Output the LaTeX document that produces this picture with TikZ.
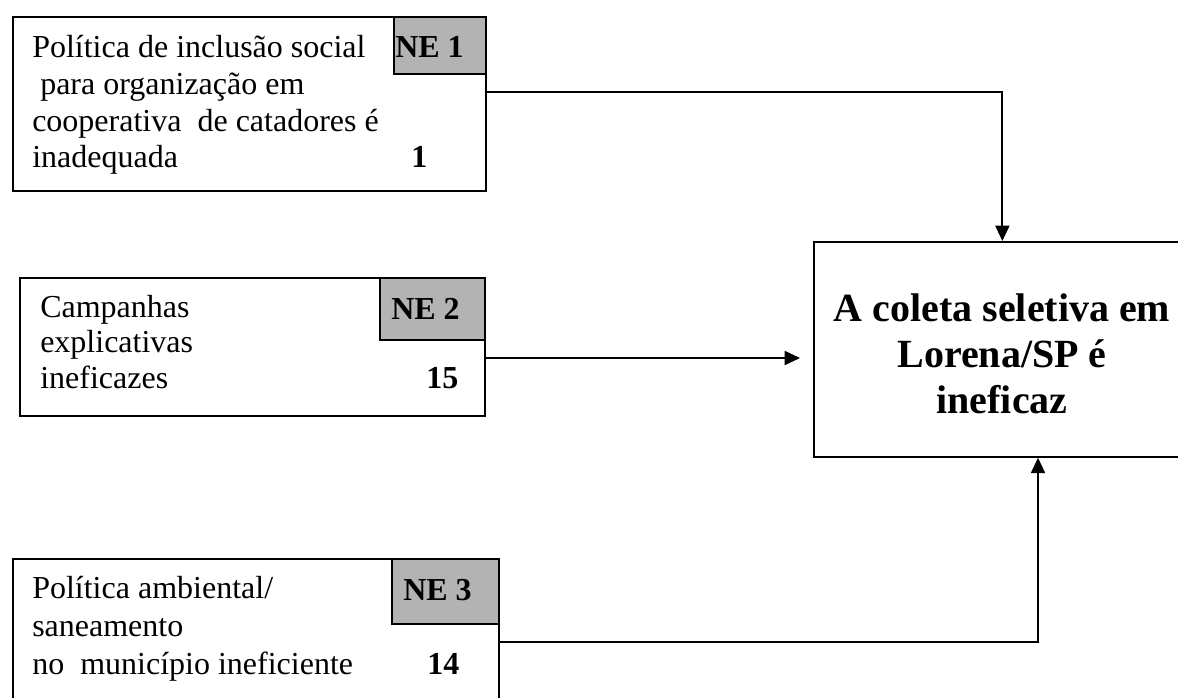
\documentclass[tikz,border=0pt]{standalone}
\usepackage{fontspec}
\setmainfont{Liberation Serif}
\usetikzlibrary{arrows.meta,calc}
\definecolor{negray}{RGB}{179,179,179}
\tikzset{
  box/.style={draw, line width=1.3pt, anchor=north west, inner sep=0pt, rectangle},
  nebox/.style={box, fill=negray},
  txt/.style={anchor=base west, inner sep=0pt, font=\fontsize{24}{28}\selectfont},
  btxt/.style={txt, font=\fontsize{24}{28}\selectfont\bfseries},
  mtxt/.style={anchor=base, inner sep=0pt, font=\fontsize{30}{34}\selectfont\bfseries},
  arr/.style={line width=1.4pt, -{Triangle[length=11.5pt,width=10.5pt]}}
}
\begin{document}
\begin{tikzpicture}[x=0.75pt,y=-0.75pt]
\useasboundingbox (0,0) rectangle (1178,697);
% boxes
\node[box, minimum width=354.75pt, minimum height=130.5pt] (box1) at (12,16) {};
\node[nebox, minimum width=69pt, minimum height=42.75pt] (ne1) at (393,16) {};
\node[box, minimum width=348.75pt, minimum height=103.5pt] (box2) at (19,277) {};
\node[nebox, minimum width=78.75pt, minimum height=46.5pt] (ne2) at (379,277) {};
\node[box, minimum width=364.5pt, minimum height=110.25pt] (box3) at (12,558) {};
\node[nebox, minimum width=80.25pt, minimum height=48.75pt] (ne3) at (391,558) {};
\node[box, minimum width=282.75pt, minimum height=161.25pt] (main) at (813,241) {};
% texts box 1
\node[txt] (t1a) at ($(box1.north west)+(20,41)$) {Política de inclusão social};
\node[txt] (t1b) at ($(box1.north west)+(28,78)$) {para organização em};
\node[txt] (t1c) at ($(box1.north west)+(20,115)$) {cooperativa\ \ de catadores é};
\node[txt] (t1d) at ($(box1.north west)+(20,151)$) {inadequada};
\node[btxt] (n1) at ($(box1.north west)+(399,151)$) {1};
\node[btxt] (ne1t) at ($(ne1.north west)+(2,41)$) {NE 1};
% texts box 2
\node[txt] (t2a) at ($(box2.north west)+(21,40)$) {Campanhas};
\node[txt] (t2b) at ($(box2.north west)+(21,75)$) {explicativas};
\node[txt] (t2c) at ($(box2.north west)+(21,111)$) {ineficazes};
\node[btxt] (n2) at ($(box2.north west)+(407,111)$) {15};
\node[btxt] (ne2t) at ($(ne2.north west)+(12,42)$) {NE 2};
% texts box 3
\node[txt] (t3a) at ($(box3.north west)+(20,40)$) {Política ambiental/};
\node[txt] (t3b) at ($(box3.north west)+(20,78)$) {saneamento};
\node[txt] (t3c) at ($(box3.north west)+(20,116)$) {no\ \ município ineficiente};
\node[btxt] (n3) at ($(box3.north west)+(415,116)$) {14};
\node[btxt] (ne3t) at ($(ne3.north west)+(12,42)$) {NE 3};
% main text
\node[mtxt] (m1) at ($(main.north west)+(189,80)$) {A coleta seletiva em};
\node[mtxt] (m2) at ($(main.north west)+(189,126)$) {Lorena/SP é};
\node[mtxt] (m3) at ($(main.north west)+(189,172)$) {ineficaz};
% connectors
\coordinate (s1) at ($(box1.north east)+(0,76)$);
\coordinate (s2) at ($(box2.north east)+(0,81)$);
\coordinate (s3) at ($(box3.north east)+(0,84)$);
\coordinate (e3) at ($(main.south west)+(225,0)$);
\draw[arr] (s1) -| (main.north);
\draw[arr] (s2) -- ($(s2 -| main.west)+(-13,0)$);
\draw[arr] (s3) -| (e3);
\end{tikzpicture}
\end{document}
